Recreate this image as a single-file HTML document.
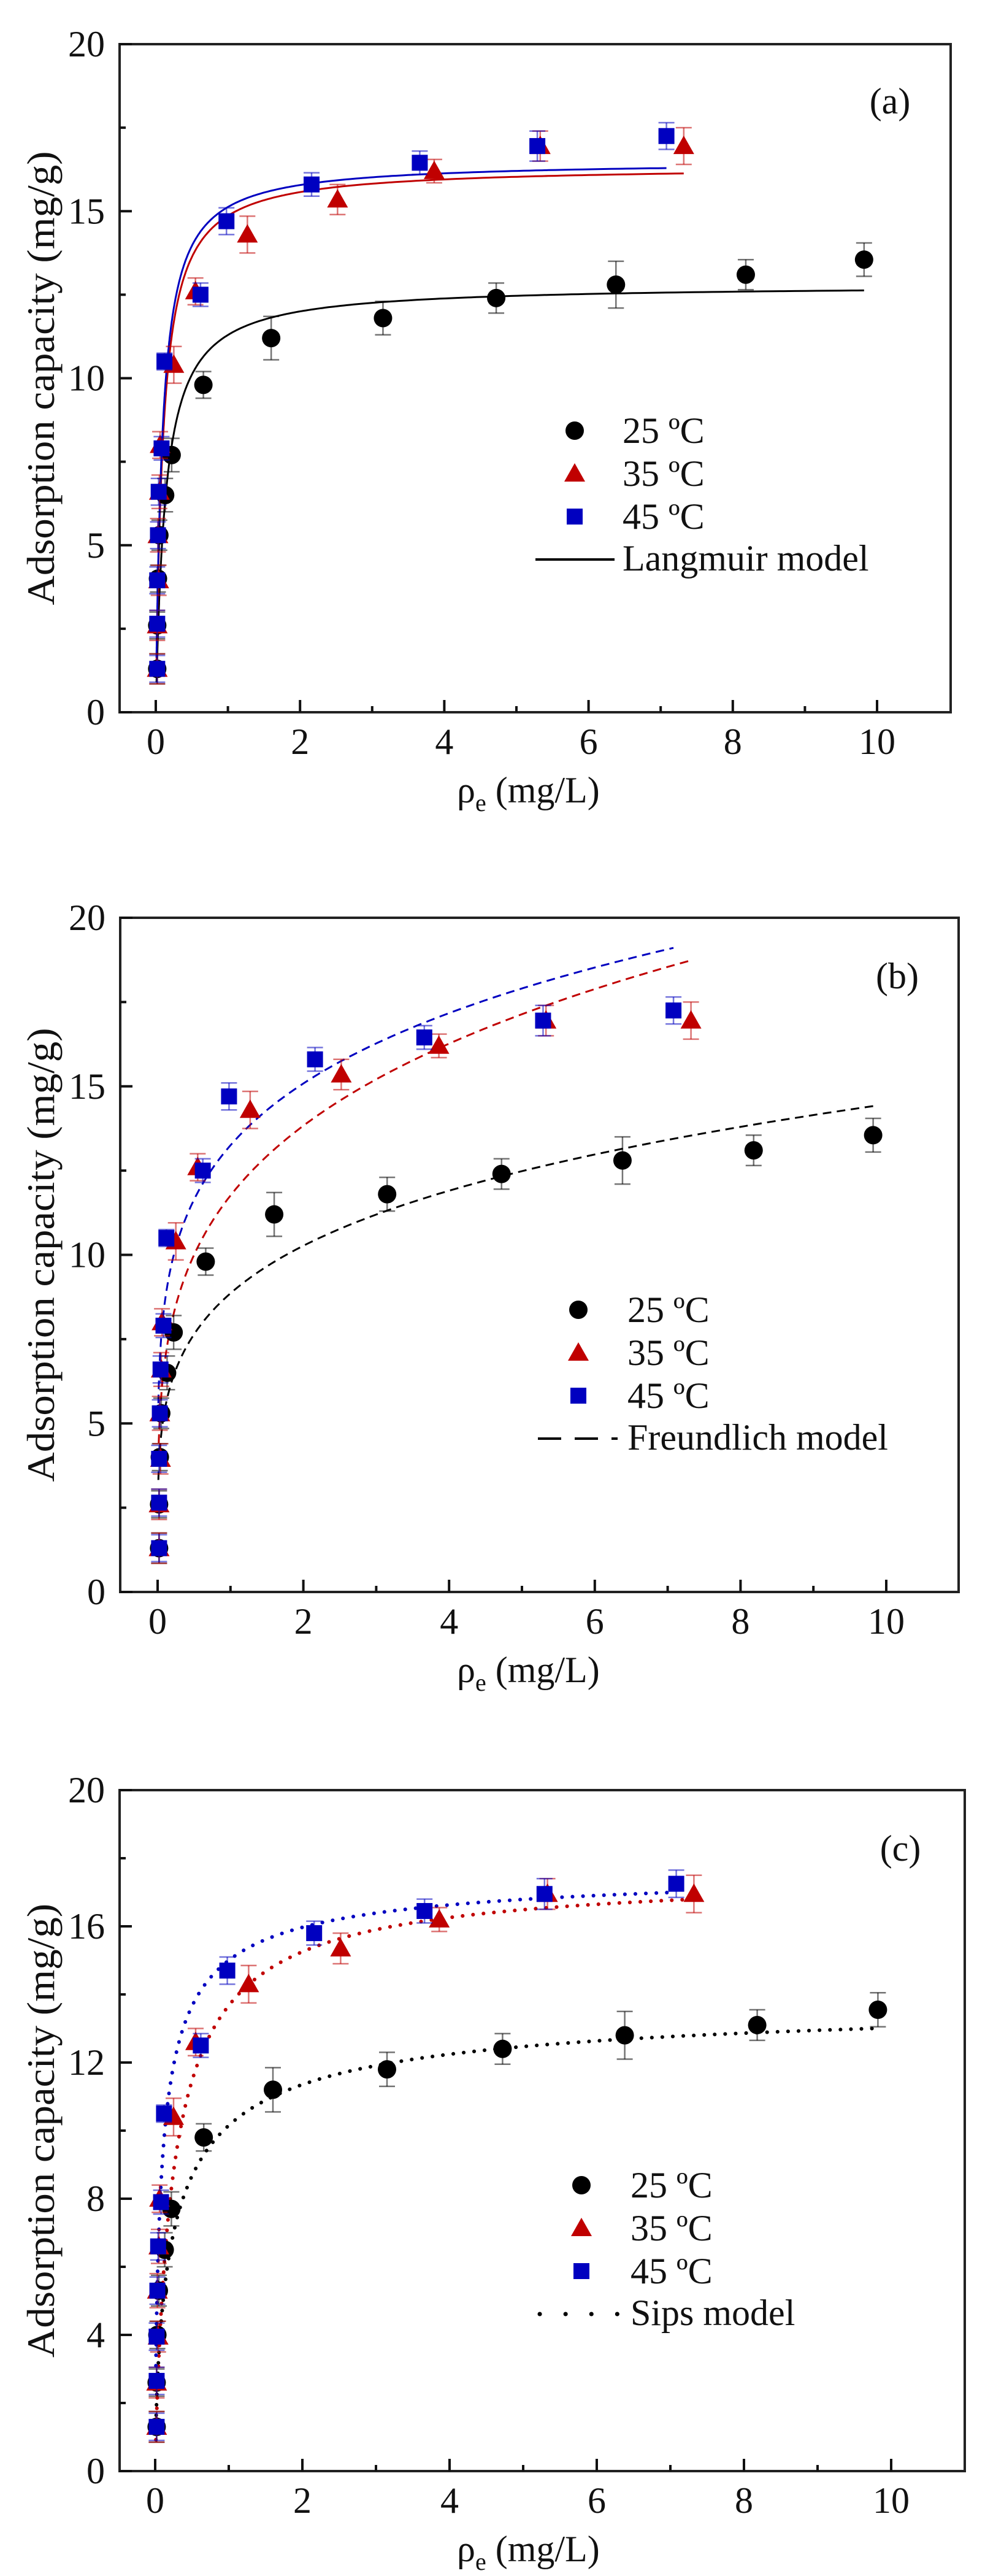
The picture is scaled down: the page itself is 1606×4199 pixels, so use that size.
<!DOCTYPE html>
<html><head><meta charset="utf-8"><style>
html,body{margin:0;padding:0;background:#fff}
svg{display:block;font-family:"Liberation Serif","Times New Roman",Times,serif}
svg text{font-family:"Liberation Serif","Times New Roman",Times,serif;fill:#111}
</style></head><body>
<svg id="s" width="1606" height="4199" viewBox="0 0 1606 4199" xmlns="http://www.w3.org/2000/svg" font-family="Liberation Serif, serif"></svg>
<script>
const S=document.getElementById('s');
let h='';
const F='font-family="Liberation Serif, Times New Roman, serif"';
const B=[[0.02,1.3,.45],[0.02,2.6,.4],[0.03,4.0,.4],[0.05,5.3,.45],[0.13,6.5,.5],[0.22,7.7,.5],[0.66,9.8,.4],[1.6,11.2,.65],[3.15,11.8,.5],[4.72,12.4,.45],[6.38,12.8,.7],[8.18,13.1,.45],[9.82,13.55,.5]];
const R=[[0.02,1.3,.45],[0.02,2.6,.45],[0.04,3.95,.45],[0.03,5.3,.5],[0.05,6.6,.5],[0.06,8.0,.4],[0.25,10.4,.55],[0.55,12.6,.4],[1.27,14.3,.55],[2.52,15.35,.45],[3.86,16.2,.35],[5.33,16.95,.45],[7.32,16.95,.55]];
const U=[[0.02,1.3,.4],[0.02,2.65,.4],[0.02,3.95,.4],[0.03,5.3,.4],[0.04,6.6,.4],[0.08,7.9,.35],[0.12,10.5,.25],[0.62,12.5,.35],[0.98,14.7,.4],[2.16,15.8,.35],[3.66,16.45,.35],[5.29,16.95,.45],[7.08,17.25,.4]];
const BK='#000',RD='#c00000',BL='#0000c0';
function panel(P){
 const {L,Rt,T,Bt,x0,x10,ymaj,ymin,label,ly,mod,legY,legX,txtX,lineX1,lineX2,style}=P;
 const X=v=>x0+(x10-x0)*v/10, Y=v=>Bt-(Bt-T)*v/20;
 const fns=mod;
 const cols=[BK,RD,BL], ends=[9.82,7.32,7.08];
 let dash=style=='solid'?'':style=='dash'?'stroke-dasharray="14 9"':'stroke-dasharray="0.1 17" stroke-linecap="round"';
 let sw=style=='dot'?6:3;
 for(let i=0;i<3;i++){let pts=[];for(let k=0;k<=400;k++){let c=0.01*Math.pow(ends[i]/0.01,k/400);let q=fns[i](c);if(q>20)continue;pts.push(X(c).toFixed(1)+','+Y(q).toFixed(1));}
  h+=`<polyline points="${pts.join(' ')}" fill="none" stroke="${cols[i]}" stroke-width="${sw}" ${dash}/>`;}
 const sets=[[B,BK,'c'],[R,RD,'t'],[U,BL,'s']];
 for(const [d,c,m] of sets){for(const [x,y,e] of d){const px=X(x),py=Y(y),e1=Y(y+e),e0=Y(y-e);
   h+=`<g stroke="${c}" stroke-opacity=".55" stroke-width="2.5"><line x1="${px}" y1="${e1}" x2="${px}" y2="${e0}"/><line x1="${px-13}" y1="${e1}" x2="${px+13}" y2="${e1}"/><line x1="${px-13}" y1="${e0}" x2="${px+13}" y2="${e0}"/></g>`;
   h+=mark(m,px,py,c);}}
 h+=`<rect x="${L}" y="${T}" width="${Rt-L}" height="${Bt-T}" fill="none" stroke="#222" stroke-width="4"/>`;
 for(let v=0;v<=10;v++){const px=X(v),len=v%2==0?20:10;h+=`<line x1="${px}" y1="${Bt}" x2="${px}" y2="${Bt-len}" stroke="#111" stroke-width="4"/>`;
  if(v%2==0)h+=`<text ${F} x="${px}" y="${Bt+68}" font-size="60" text-anchor="middle">${v}</text>`;}
 for(let v=0;v<=20;v+=ymin){const py=Y(v);const maj=Math.abs(v/ymaj-Math.round(v/ymaj))<1e-6;h+=`<line x1="${L}" y1="${py}" x2="${L+(maj?20:10)}" y2="${py}" stroke="#111" stroke-width="4"/>`;
  if(maj)h+=`<text ${F} x="${L-24}" y="${py+20}" font-size="60" text-anchor="end">${v}</text>`;}
 h+=`<text ${F} transform="translate(88,${(T+Bt)/2}) rotate(-90)" font-size="64" text-anchor="middle" textLength="740" lengthAdjust="spacingAndGlyphs">Adsorption capacity (mg/g)</text>`;
 h+=`<text ${F} x="745" y="${Bt+147}" font-size="60">ρ<tspan font-size="40" dy="14">e</tspan><tspan dy="-14"> (mg/L)</tspan></text>`;
 h+=`<text ${F} x="${P.lx}" y="${ly}" font-size="60" text-anchor="middle">${label}</text>`;
 const names=['25 ºC','35 ºC','45 ºC'];
 for(let i=0;i<3;i++){const yy=legY+70*i;h+=mark(['c','t','s'][i],legX,yy,cols[i]);h+=`<text ${F} x="${txtX}" y="${yy+20}" font-size="60">${names[i]}</text>`;}
 const yy=legY+210;h+=`<line x1="${lineX1}" y1="${yy}" x2="${lineX2}" y2="${yy}" stroke="#000" stroke-width="${style=='dot'?7:4}" ${style=='solid'?'':style=='dash'?'stroke-dasharray="38 22"':'stroke-dasharray="0.1 42" stroke-linecap="round"'}/>`;
 h+=`<text ${F} x="${txtX}" y="${yy+18}" font-size="60">${P.mname}</text>`;
}
function mark(m,x,y,c){
 if(m=='c')return `<circle cx="${x}" cy="${y}" r="15" fill="${c}"/>`;
 if(m=='t')return `<polygon points="${x},${y-17} ${x-17},${y+13} ${x+17},${y+13}" fill="${c}"/>`;
 return `<rect x="${x-13}" y="${y-13}" width="26" height="26" fill="${c}"/>`;
}
const lang=(qm,K)=>c=>qm*K*c/(1+K*c);
const fr=(K,n)=>c=>K*Math.pow(c,n);
const sips=(qm,K,n)=>c=>{const t=Math.pow(K*c,n);return qm*t/(1+t)};
panel({L:195,Rt:1550,T:72,Bt:1161,x0:254,x10:1430,ymaj:5,ymin:2.5,label:'(a)',lx:1451,ly:185,mod:[lang(12.8,7.5),lang(16.35,10),lang(16.5,11)],legY:702,legX:937,txtX:1015,lineX1:873,lineX2:1002,style:'solid',mname:'Langmuir model'});
panel({L:196,Rt:1563,T:1496,Bt:2595,x0:257,x10:1445,ymaj:5,ymin:2.5,label:'(b)',lx:1463,ly:1611,mod:[fr(8.86,0.213),fr(11.76,0.234),fr(13.25,0.187)],legY:2135,legX:943,txtX:1023,lineX1:877,lineX2:1007,style:'dash',mname:'Freundlich model'});
panel({L:195,Rt:1573,T:2918,Bt:4028,x0:253,x10:1453,ymaj:4,ymin:2,label:'(c)',lx:1468,ly:3033,mod:[sips(14,4,0.7),sips(17.6,4,0.9),sips(17.8,10.9,0.703)],legY:3562,legX:948,txtX:1028,lineX1:880,lineX2:1012,style:'dot',mname:'Sips model'});
S.innerHTML=h;
</script>
</body></html>
